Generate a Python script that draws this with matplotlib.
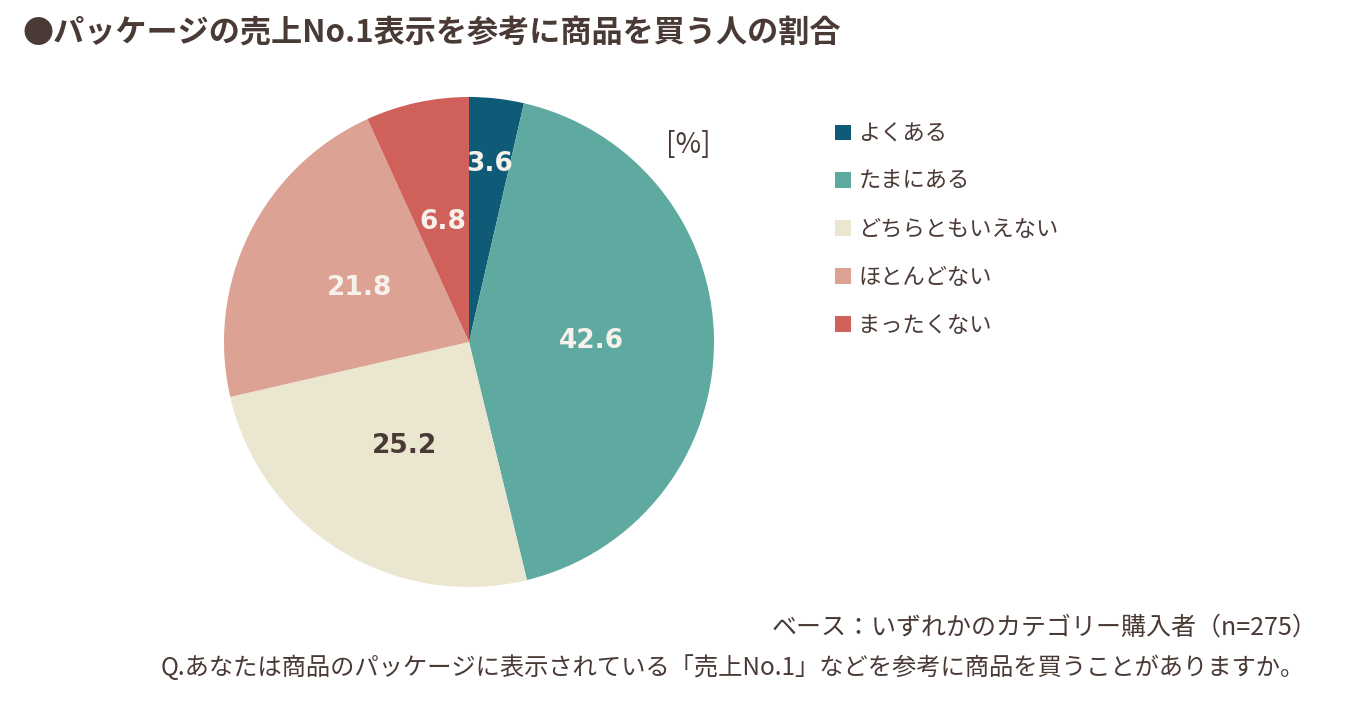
import numpy as np
import matplotlib.pyplot as plt
import matplotlib as mpl

mpl.rcParams['font.family'] = ['Noto Sans CJK JP', 'DejaVu Sans']

# data
categories = ['よくある', 'たまにある', 'どちらともいえない', 'ほとんどない', 'まったくない']
values = [3.6, 42.6, 25.2, 21.8, 6.8]
colors = ['#0e5a77', '#5faaa0', '#ebe6cf', '#dca395', '#d0605a']
label_colors = ['#f6f1ea', '#f6f1ea', '#4a3a35', '#f6f1ea', '#f6f1ea']
label_dist = [0.73, 0.5, 0.5, 0.5, 0.5]

title = '●パッケージの売上No.1表示を参考に商品を買う人の割合'
base_note = 'ベース：いずれかのカテゴリー購入者（n=275）'
question = 'Q.あなたは商品のパッケージに表示されている「売上No.1」などを参考に商品を買うことがありますか。'

TEXT = '#4a3a35'
W, H = 1349, 705
fig = plt.figure(figsize=(W / 100, H / 100), dpi=100)

# pie axes: centre (469, 342), radius 245 px
cx, cy, r = 469, 342, 245
ax = fig.add_axes([(cx - r) / W, (H - cy - r) / H, 2 * r / W, 2 * r / H])
wedges, _ = ax.pie(values, colors=colors, startangle=90, counterclock=False,
                   radius=1, wedgeprops=dict(linewidth=0))
ax.set_xlim(-1, 1)
ax.set_ylim(-1, 1)
ax.set_aspect('equal')
ax.axis('off')

for w, v, c, d in zip(wedges, values, label_colors, label_dist):
    ang = np.deg2rad((w.theta1 + w.theta2) / 2)
    ax.text(d * np.cos(ang), d * np.sin(ang), f'{v:.1f}', ha='center', va='center',
            fontsize=19, fontweight='bold', color=c, family=['DejaVu Sans'])

fig.text(22 / W, 1 - 33 / H, title, fontsize=22.4, fontweight='bold', color=TEXT,
         va='center', ha='left')
fig.text(688 / W, 1 - 145 / H, '[%]', fontsize=20, color=TEXT, ha='center', va='center')

leg = fig.legend(wedges, categories, loc='upper left', bbox_to_anchor=(824 / W, 1 - 111 / H),
                 frameon=False, fontsize=16, handlelength=0.7, handleheight=0.7,
                 handletextpad=0.35, labelspacing=1.12, borderpad=0)
for t in leg.get_texts():
    t.set_color(TEXT)

fig.text(1318 / W, 1 - 628 / H, base_note, fontsize=18, color=TEXT, ha='right', va='center')
fig.text(1305 / W, 1 - 668 / H, question, fontsize=17.5, color=TEXT, ha='right', va='center')

fig.savefig('out.png', dpi=100, facecolor='white')
